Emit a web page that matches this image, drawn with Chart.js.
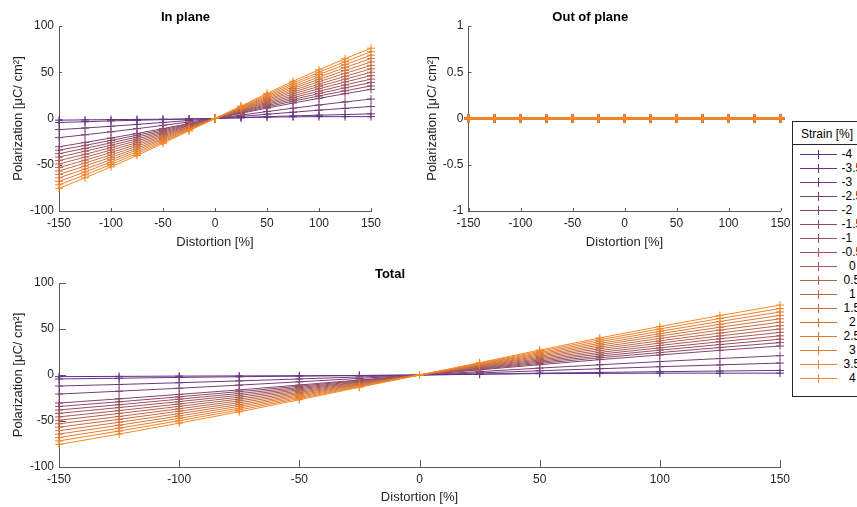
<!DOCTYPE html>
<html>
<head>
<meta charset="utf-8">
<script src="https://cdn.jsdelivr.net/npm/chart.js@4.4.1/dist/chart.umd.min.js"></script>
<style>
  html, body { margin: 0; padding: 0; background: #fff; overflow: hidden; }
  body { width: 857px; height: 507px; position: relative; font-family: "Liberation Sans", Arial, Helvetica, sans-serif; }
  canvas { position: absolute; }
  #legend { position: absolute; left: 792px; top: 121px; width: 90px; height: 276px; border: 1px solid #262626; background: #fff; box-sizing: border-box; }
  #legend .ttl { position: absolute; left: 8px; top: 5px; font-size: 12px; line-height: 14px; color: #000; white-space: nowrap; }
  #legend .sep { position: absolute; left: 0; right: 0; top: 22px; height: 1px; background: #262626; }
  #legend .row { position: absolute; left: 0; width: 90px; height: 14px; }
  #legend .ln { position: absolute; left: 7px; width: 37px; top: 7px; height: 1px; }
  #legend .cv { position: absolute; left: 25px; width: 1px; top: 3px; height: 9px; }
  #legend .lb { position: absolute; top: 0; font-size: 12px; line-height: 15px; color: #000; white-space: nowrap; }
</style>
</head>
<body>
<canvas id="cIn" width="400" height="250" style="left:0;top:0"></canvas>
<canvas id="cOut" width="400" height="250" style="left:400px;top:0"></canvas>
<canvas id="cTot" width="857" height="250" style="left:0;top:257px"></canvas>
<div id="legend"></div>
<script>
// ---------------- DATA ----------------
const distortion = [-150, -125, -100, -75, -50, -25, 0, 25, 50, 75, 100, 125, 150];
const strainLabels = ['-4', '-3.5', '-3', '-2.5', '-2', '-1.5', '-1', '-0.5', '0', '0.5', '1', '1.5', '2', '2.5', '3', '3.5', '4'];
const xTicks = [-150, -100, -50, 0, 50, 100, 150];
const yTicksP = [-100, -50, 0, 50, 100];
const yTicksOut = [-1, -0.5, 0, 0.5, 1];

// In-plane polarization [uC/cm^2] per strain, at each distortion value
const inPlane_m4   = [-1.8, -1.5, -1.2, -1.0, -0.8, -0.5, 0, 0.8, 1.5, 1.8, 2.0, 2.0, 2.0];
const inPlane_m3p5 = [-4.3, -3.5, -2.6, -1.9, -1.2, -0.6, 0, 1.0, 2.0, 2.8, 3.6, 4.3, 5.0];
const inPlane_m3   = [-12.0, -10.3, -8.4, -6.4, -4.3, -2.1, 0, 2.3, 4.6, 6.8, 9.0, 11.0, 13.0];
const inPlane_m2p5 = [-20.7, -17.6, -14.4, -11.0, -7.4, -3.7, 0, 3.7, 7.5, 11.1, 14.6, 17.9, 21.0];
const inPlane_m2   = [-30.5, -25.9, -21.1, -16.2, -10.9, -5.4, 0, 5.6, 11.2, 16.7, 21.8, 26.8, 31.5];
const inPlane_m1p5 = [-34.2, -29.1, -23.7, -18.1, -12.2, -6.0, 0, 6.2, 12.6, 18.7, 24.4, 29.9, 35.2];
const inPlane_m1   = [-38.0, -32.3, -26.3, -20.1, -13.6, -6.7, 0, 6.9, 13.9, 20.6, 27.0, 33.1, 38.9];
const inPlane_m0p5 = [-41.7, -35.4, -28.9, -22.1, -14.9, -7.4, 0, 7.5, 15.2, 22.6, 29.5, 36.2, 42.6];
const inPlane_0    = [-45.5, -38.7, -31.5, -24.1, -16.2, -8.0, 0, 8.2, 16.5, 24.5, 32.1, 39.4, 46.3];
const inPlane_p0p5 = [-49.2, -41.8, -34.1, -26.1, -17.5, -8.7, 0, 8.8, 17.8, 26.5, 34.7, 42.5, 50.0];
const inPlane_p1   = [-53.0, -45.1, -36.7, -28.1, -18.9, -9.4, 0, 9.5, 19.2, 28.5, 37.2, 45.6, 53.7];
const inPlane_p1p5 = [-56.7, -48.2, -39.3, -30.1, -20.2, -10.0, 0, 10.1, 20.5, 30.4, 39.8, 48.8, 57.4];
const inPlane_p2   = [-60.5, -51.4, -41.9, -32.1, -21.6, -10.7, 0, 10.8, 21.8, 32.4, 42.4, 51.9, 61.1];
const inPlane_p2p5 = [-64.2, -54.6, -44.5, -34.0, -22.9, -11.3, 0, 11.5, 23.1, 34.3, 44.9, 55.1, 64.8];
const inPlane_p3   = [-68.0, -57.8, -47.1, -36.0, -24.3, -12.0, 0, 12.1, 24.4, 36.3, 47.5, 58.2, 68.5];
const inPlane_p3p5 = [-71.7, -60.9, -49.7, -38.0, -25.6, -12.7, 0, 12.8, 25.8, 38.3, 50.1, 61.4, 72.2];
const inPlane_p4   = [-75.5, -64.2, -52.3, -40.0, -26.9, -13.3, 0, 13.4, 27.1, 40.3, 52.7, 64.6, 76.0];

// Out-of-plane polarization: zero for every strain
const outOfPlane = [0, 0, 0, 0, 0, 0, 0, 0, 0, 0, 0, 0, 0];

const inPlaneSeries = [inPlane_m4, inPlane_m3p5, inPlane_m3, inPlane_m2p5, inPlane_m2, inPlane_m1p5,
  inPlane_m1, inPlane_m0p5, inPlane_0, inPlane_p0p5, inPlane_p1, inPlane_p1p5, inPlane_p2,
  inPlane_p2p5, inPlane_p3, inPlane_p3p5, inPlane_p4];
// Total = in-plane + out-of-plane (out-of-plane is zero), so the same values
const totalSeries = inPlaneSeries;

// ---------------- STYLE ----------------
const colors = ['#5e2e87', '#683481', '#71397a', '#7b3f74', '#84446e', '#8e4a68', '#975061', '#a1555b',
  '#aa5b55', '#b4614f', '#bd6648', '#c76c42', '#d0723c', '#da7736', '#e37d2f', '#ed8229', '#f68823'];

Chart.defaults.font.family = '"Liberation Sans", Arial, Helvetica, sans-serif';
Chart.defaults.color = '#262626';

const AXIS = '#595959';
const yTitle = 'Polarization [\u03BCC/ cm\u00B2]';

const inwardTicks = {
  id: 'inwardTicks',
  beforeDatasetsDraw(chart, args, opts) {
    const { ctx, chartArea: a, scales: { x, y } } = chart;
    ctx.save();
    ctx.strokeStyle = AXIS;
    ctx.lineWidth = 1;
    ctx.beginPath();
    x.ticks.forEach(t => {
      const px = Math.round(x.getPixelForValue(t.value)) + 0.5;
      ctx.moveTo(px, a.bottom); ctx.lineTo(px, a.bottom - opts.len);
    });
    y.ticks.forEach(t => {
      const py = Math.round(y.getPixelForValue(t.value)) + 0.5;
      ctx.moveTo(a.left, py); ctx.lineTo(a.left + opts.len, py);
    });
    ctx.stroke();
    ctx.restore();
  }
};

function makeDatasets(series, lw) {
  return series.map((vals, i) => ({
    label: strainLabels[i],
    data: distortion.map((d, k) => ({ x: d, y: vals[k] })),
    borderColor: colors[i],
    backgroundColor: colors[i],
    borderWidth: lw,
    pointStyle: 'cross',
    pointRadius: 4,
    pointBorderWidth: lw > 1 ? 1.6 : 1,
    pointHoverRadius: 4,
    tension: 0,
    fill: false,
    clip: false,
    order: -i
  }));
}

function makeChart(id, series, cfg) {
  return new Chart(document.getElementById(id), {
    type: 'line',
    data: { datasets: makeDatasets(series, cfg.lw) },
    plugins: [inwardTicks],
    options: {
      responsive: false,
      animation: false,
      events: [],
      layout: { padding: { left: 0, right: cfg.padRight, top: 0, bottom: 0 } },
      plugins: {
        legend: { display: false },
        tooltip: { enabled: false },
        title: { display: true, text: cfg.title, color: '#000', font: { size: 13, weight: 'bold' }, padding: { top: 10, bottom: 0.4 } },
        inwardTicks: { len: cfg.tickLen }
      },
      scales: {
        x: {
          type: 'linear', min: -150, max: 150,
          afterBuildTicks: s => { s.ticks = xTicks.map(v => ({ value: v })); },
          afterFit: s => { s.height = cfg.xHeight; },
          grid: { display: false, drawTicks: false },
          border: { display: true, color: AXIS, width: 1 },
          ticks: { padding: 5, font: { size: 12 }, color: '#262626', maxRotation: 0, autoSkip: false, callback: v => String(v) },
          title: { display: true, text: 'Distortion [%]', color: '#262626', font: { size: 13 }, padding: { top: 0, bottom: cfg.xTitlePad } }
        },
        y: {
          type: 'linear', min: cfg.yMin, max: cfg.yMax,
          afterBuildTicks: s => { s.ticks = cfg.yTicks.map(v => ({ value: v })); },
          afterFit: s => { s.width = cfg.yWidth; },
          grid: { display: false, drawTicks: false },
          border: { display: true, color: AXIS, width: 1 },
          ticks: { padding: 5, font: { size: 12 }, color: '#262626', autoSkip: false, callback: v => String(v) },
          title: { display: true, text: yTitle, color: '#262626', font: { size: 13 }, padding: { top: cfg.yTitlePad, bottom: 0 } }
        }
      }
    }
  });
}

makeChart('cIn', inPlaneSeries, { title: 'In plane', lw: 1, padRight: 29, xHeight: 39, yWidth: 59, yMin: -100, yMax: 100, yTicks: yTicksP, tickLen: 3, xTitlePad: 0, yTitlePad: 10.2 });
makeChart('cOut', strainLabels.map(() => outOfPlane), { title: 'Out of plane', lw: 2, padRight: 19.5, xHeight: 39, yWidth: 68.5, yMin: -1, yMax: 1, yTicks: yTicksOut, tickLen: 3, xTitlePad: 0, yTitlePad: 24.2 });
makeChart('cTot', totalSeries, { title: 'Total', lw: 1, padRight: 77, xHeight: 40, yWidth: 59, yMin: -100, yMax: 100, yTicks: yTicksP, tickLen: 7, xTitlePad: 2, yTitlePad: 10.5 });

// ---------------- LEGEND ----------------
const leg = document.getElementById('legend');
leg.innerHTML = '<div class="ttl">Strain [%]</div><div class="sep"></div>';
strainLabels.forEach((s, i) => {
  const row = document.createElement('div');
  row.className = 'row';
  row.style.top = (25 + i * 14.02) + 'px';
  const lx = s.startsWith('-') ? 48.5 : (s.includes('.') ? 50.5 : 56);
  row.innerHTML = '<div class="ln" style="background:' + colors[i] + '"></div>' +
    '<div class="cv" style="background:' + colors[i] + '"></div>' +
    '<div class="lb" style="left:' + lx + 'px">' + s + '</div>';
  leg.appendChild(row);
});
</script>
</body>
</html>
